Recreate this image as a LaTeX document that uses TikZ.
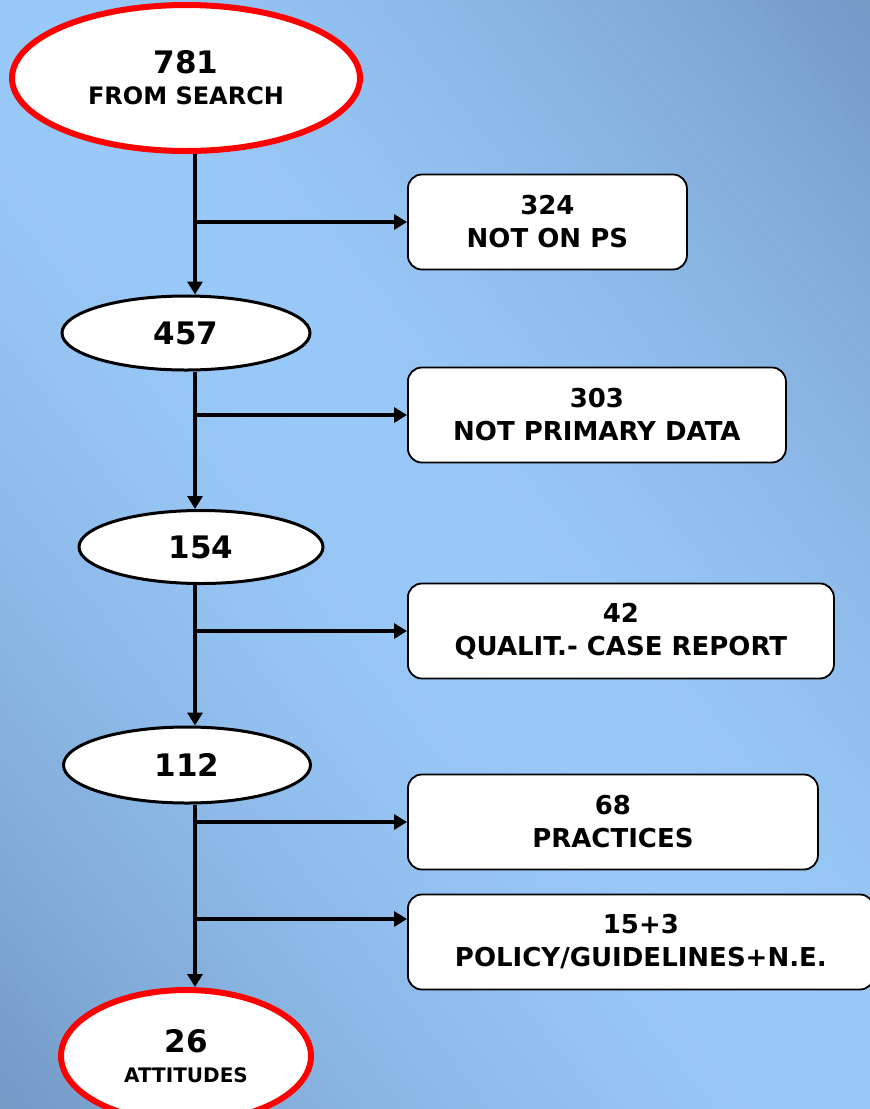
\documentclass[tikz,border=0pt]{standalone}
\usepackage{fontspec}
\setmainfont{DejaVu Sans}
\usetikzlibrary{arrows.meta,shapes.geometric}

\definecolor{bgdark}{RGB}{116,154,198}
\definecolor{bglight}{RGB}{153,201,248}

\begin{document}
\begin{tikzpicture}
        [%%%%%%%%%%%%%%%%%%%%%%%%%%%%%%
        x=1pt,y=-1pt,
        count/.style={ellipse,draw=black,line width=3pt,fill=white,inner sep=0pt,align=center,
          font=\fontsize{31}{34}\selectfont\bfseries},
        ends/.style={count,draw=red,line width=6pt},
        reason/.style={rectangle,rounded corners=14pt,draw=black,line width=1.8pt,fill=white,
          anchor=west,minimum height=95pt,inner sep=0pt,align=center,
          font=\fontsize{26}{33}\selectfont\bfseries},
        flow/.style={line width=4pt,-{Triangle[length=13pt,width=15pt]}},
        ]%%%%%%%%%%%%%%%%%%%%%%%%%%%%%%

        \useasboundingbox (0,0) rectangle (870,1109);
        % backdrop: light along one diagonal, darker to the other corners
        \begin{scope}
          \clip (0,0) rectangle (870,1109);
          \foreach \k in {-60,...,59}{
            \pgfmathsetmacro\mix{100*abs((\k+0.5)/60)^1.5}
            \fill[bgdark!\mix!bglight,draw=bgdark!\mix!bglight,line width=0.8pt]
              (14.5*\k,0) -- (14.5*\k+15,0) -- (14.5*\k+885,1109) -- (14.5*\k+870,1109) -- cycle;
          }
        \end{scope}

        % counts down the middle
        \node[ends,minimum width=348pt,minimum height=146pt] (n781) at (186,78)
          {781\\[-3pt]{\fontsize{24}{28}\selectfont FROM SEARCH}};
        \node[count,minimum width=248pt,minimum height=74pt] (n457) at (186,333) {457};
        \node[count,minimum width=244pt,minimum height=73pt] (n154) at (201,547) {154};
        \node[count,minimum width=247pt,minimum height=76pt] (n112) at (187,765) {112};
        \node[ends,minimum width=250pt,minimum height=132pt] (n26) at (186,1056)
          {26\\[-4pt]{\fontsize{20}{24}\selectfont ATTITUDES}};

        % excluded ones on the right
        \node[reason,minimum width=279pt] (n324) at (407,222) {324\\NOT ON PS};
        \node[reason,minimum width=378pt] (n303) at (407,415) {303\\NOT PRIMARY DATA};
        \node[reason,minimum width=426pt] (n42) at (407,631) {42\\QUALIT.- CASE REPORT};
        \node[reason,minimum width=410pt] (n68) at (407,822) {68\\PRACTICES};
        \node[reason,minimum width=466pt] (n15) at (407,942) {15+3\\POLICY/GUIDELINES+N.E.};

        \coordinate (trunk) at (195,0);
        \coordinate (into15) at (407,919);

        \draw[flow] (trunk |- n781.south) -- (trunk |- n457.north);
        \draw[flow] (trunk |- n457.south) -- (trunk |- n154.north);
        \draw[flow] (trunk |- n154.south) -- (trunk |- n112.north);
        \draw[flow] (trunk |- n112.south) -- (trunk |- n26.north);

        \foreach \b in {n324,n303,n42,n68}
          \draw[flow] (trunk |- \b.west) -- (\b.west);
        \draw[flow] (trunk |- into15) -- (into15);
      \end{tikzpicture}
\end{document}
